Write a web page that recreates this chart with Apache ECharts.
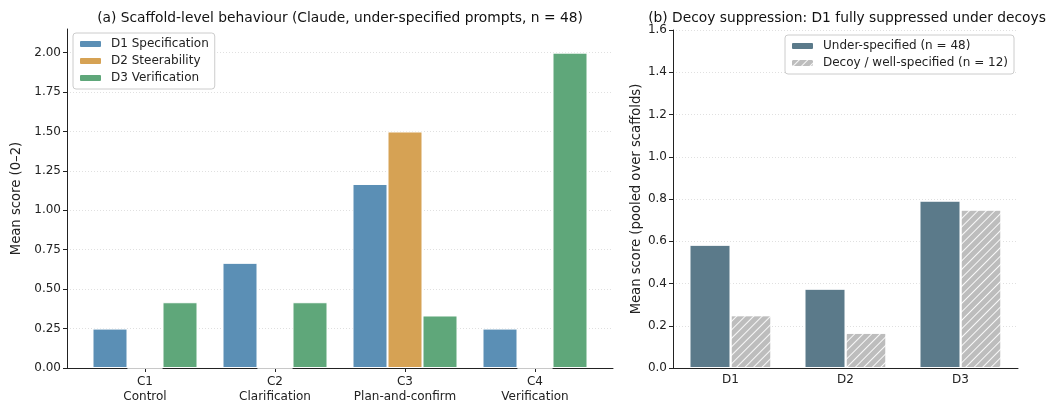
<!DOCTYPE html>
<html><head><meta charset="utf-8">
<script src="https://cdn.jsdelivr.net/npm/echarts@6/dist/echarts.min.js"></script>
<style>html,body{margin:0;padding:0;background:#fff}#c{width:1049px;height:404px}</style>
</head><body><div id="c"></div>
<script>
// ---- data ----
const scaffoldCats = ['C1\nControl', 'C2\nClarification', 'C3\nPlan-and-confirm', 'C4\nVerification'];
const d1Spec = [0.25, 0.667, 1.167, 0.25];
const d2Steer = [0, 0, 1.5, 0];
const d3Verif = [0.417, 0.417, 0.333, 2.0];
const dimCats = ['D1', 'D2', 'D3'];
const underSpec = [0.583, 0.375, 0.792];
const decoySpec = [0.25, 0.167, 0.75];
const leftTicks = [0, 0.25, 0.5, 0.75, 1.0, 1.25, 1.5, 1.75, 2.0];
const catPositions = [0, 1, 2, 3];

const FONT = 'DejaVu Sans';
const chart = echarts.init(document.getElementById('c'), null, {renderer: 'canvas'});
const axisLineStyle = {color: '#222', width: 1};
const splitStyle = {show: true, lineStyle: {type: [1, 2], color: '#d8d8d8', width: 0.8}};
const barEdge = {borderColor: '#fff', borderWidth: 1};
const pairs = arr => arr.map((v, i) => [catPositions[i], v]);
const legendCommon = {orient: 'vertical', itemWidth: 23, itemHeight: 8, itemGap: 5, padding: [5, 6, 5, 5],
  backgroundColor: '#fff', borderColor: '#ccc', borderWidth: 1, borderRadius: 3,
  textStyle: {fontFamily: FONT, fontSize: 12, color: '#222', padding: [0, 0, 0, 4]}};

chart.setOption({
  animation: false,
  textStyle: {fontFamily: FONT},
  title: [
    {text: '(a) Scaffold-level behaviour (Claude, under-specified prompts, n = 48)', left: 335, top: 6, textAlign: 'center',
     textStyle: {fontFamily: FONT, fontSize: 13.8, fontWeight: 'normal', color: '#111'}},
    {text: '(b) Decoy suppression: D1 fully suppressed under decoys', left: 842, top: 6, textAlign: 'center',
     textStyle: {fontFamily: FONT, fontSize: 13.8, fontWeight: 'normal', color: '#111'}}
  ],
  legend: [
    Object.assign({data: ['D1 Specification', 'D2 Steerability', 'D3 Verification'], left: 73, top: 33}, legendCommon),
    Object.assign({data: ['Under-specified (n = 48)', 'Decoy / well-specified (n = 12)'], left: 785, top: 35}, legendCommon)
  ],
  grid: [
    {left: 67, right: 436, top: 29, bottom: 36},
    {left: 673, right: 31, top: 30, bottom: 36}
  ],
  xAxis: [
    {type: 'value', gridIndex: 0, min: -0.6, max: 3.6, axisLine: {show: true, onZero: false, lineStyle: axisLineStyle},
     splitLine: {show: false},
     axisTick: {show: true, length: 4, lineStyle: axisLineStyle, customValues: catPositions},
     axisLabel: {fontFamily: FONT, fontSize: 12, color: '#222', lineHeight: 15, margin: 6, customValues: catPositions,
       formatter: v => scaffoldCats[Math.round(v)]}},
    {type: 'category', gridIndex: 1, data: dimCats, axisLine: {lineStyle: axisLineStyle},
     axisTick: {alignWithLabel: true, length: 4, lineStyle: axisLineStyle},
     axisLabel: {fontFamily: FONT, fontSize: 12, color: '#222', margin: 6}}
  ],
  yAxis: [
    {type: 'value', gridIndex: 0, min: 0, max: 2.15,
     name: 'Mean score (0–2)', nameLocation: 'middle', nameGap: 44, nameRotate: 90,
     nameTextStyle: {fontFamily: FONT, fontSize: 13.2, color: '#222'},
     axisLine: {show: true, onZero: false, lineStyle: axisLineStyle},
     axisTick: {show: true, length: 4, lineStyle: axisLineStyle, customValues: leftTicks},
     axisLabel: {fontFamily: FONT, fontSize: 12, color: '#222', margin: 6, customValues: leftTicks,
       formatter: v => v.toFixed(2)},
     splitLine: splitStyle},
    {type: 'value', gridIndex: 1, min: 0, max: 1.6, interval: 0.2,
     name: 'Mean score (pooled over scaffolds)', nameLocation: 'middle', nameGap: 30, nameRotate: 90,
     nameTextStyle: {fontFamily: FONT, fontSize: 13.2, color: '#222'},
     axisLine: {show: true, onZero: false, lineStyle: axisLineStyle},
     axisTick: {show: true, length: 4, lineStyle: axisLineStyle},
     axisLabel: {fontFamily: FONT, fontSize: 12, color: '#222', margin: 6, formatter: v => v.toFixed(1)},
     splitLine: splitStyle}
  ],
  series: [
    {name: 'D1 Specification', type: 'bar', xAxisIndex: 0, yAxisIndex: 0, data: pairs(d1Spec), barWidth: 35, barGap: 0,
     itemStyle: Object.assign({color: '#5b8fb5'}, barEdge)},
    {name: 'D2 Steerability', type: 'bar', xAxisIndex: 0, yAxisIndex: 0, data: pairs(d2Steer), barWidth: 35, barGap: 0,
     itemStyle: Object.assign({color: '#d6a254'}, barEdge)},
    {name: 'D3 Verification', type: 'bar', xAxisIndex: 0, yAxisIndex: 0, data: pairs(d3Verif), barWidth: 35, barGap: 0,
     itemStyle: Object.assign({color: '#5fa77a'}, barEdge)},
    {name: 'Under-specified (n = 48)', type: 'bar', xAxisIndex: 1, yAxisIndex: 1, data: underSpec, barWidth: 41, barGap: 0,
     itemStyle: Object.assign({color: '#5b7a8a'}, barEdge)},
    {name: 'Decoy / well-specified (n = 12)', type: 'bar', xAxisIndex: 1, yAxisIndex: 1, data: decoySpec, barWidth: 41, barGap: 0,
     itemStyle: Object.assign({color: '#bdbdbd',
       decal: {symbol: 'rect', symbolSize: 1, dashArrayX: [1, 0], dashArrayY: [1, 5], rotation: -Math.PI / 4, color: 'rgba(255,255,255,0.9)'}}, barEdge)}
  ]
});
</script></body></html>
